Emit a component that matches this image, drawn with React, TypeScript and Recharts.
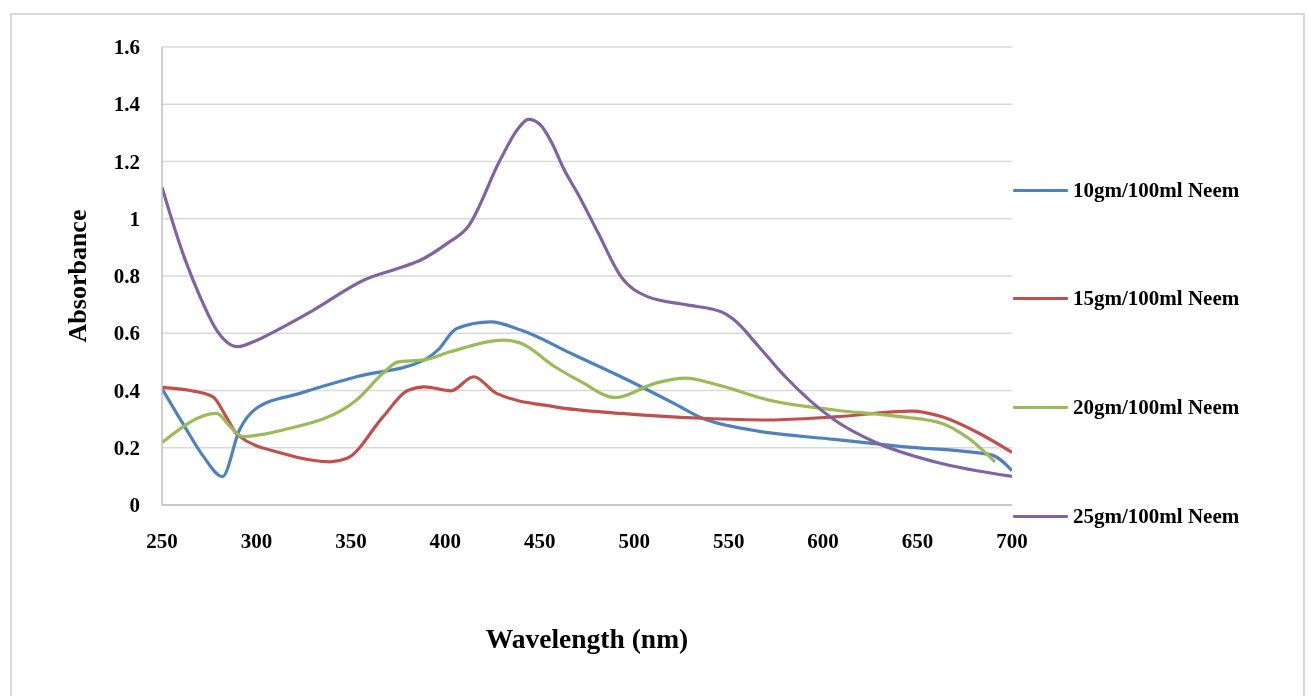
import React from 'react';
import { LineChart, Line, XAxis, YAxis, CartesianGrid, Legend, Label } from 'recharts';

const xTicks = [250, 300, 350, 400, 450, 500, 550, 600, 650, 700];
const yTicks = [0, 0.2, 0.4, 0.6, 0.8, 1, 1.2, 1.4, 1.6];
const yTickLabels = ['0', '0.2', '0.4', '0.6', '0.8', '1', '1.2', '1.4', '1.6'];

const names = ['10gm/100ml Neem', '15gm/100ml Neem', '20gm/100ml Neem', '25gm/100ml Neem'];
const colors = ['#4F81BD', '#C0504D', '#9BBB59', '#8064A2'];

const wl10 = [250, 261, 272, 282, 291, 300, 323, 353, 389, 396, 406, 424, 440, 468, 493, 521, 536, 562, 606, 642, 689, 700];
const abs10 = [0.407, 0.285, 0.169, 0.099, 0.262, 0.338, 0.39, 0.448, 0.507, 0.541, 0.617, 0.64, 0.611, 0.525, 0.448, 0.355, 0.303, 0.262, 0.229, 0.204, 0.175, 0.12];

const wl15 = [250, 265, 277, 284, 290, 314, 339, 348, 367, 380, 389, 403, 415, 427, 458, 493, 536, 571, 606, 647, 663, 681, 700];
const abs15 = [0.411, 0.4, 0.378, 0.308, 0.245, 0.18, 0.151, 0.163, 0.308, 0.4, 0.413, 0.399, 0.448, 0.39, 0.343, 0.32, 0.303, 0.297, 0.308, 0.328, 0.308, 0.256, 0.184];

const wl20 = [250, 279, 286, 293, 314, 353, 367, 375, 389, 403, 431, 440, 458, 472, 490, 511, 527, 546, 571, 606, 642, 663, 677, 691];
const abs20 = [0.218, 0.32, 0.274, 0.239, 0.262, 0.367, 0.46, 0.5, 0.507, 0.536, 0.576, 0.565, 0.483, 0.43, 0.375, 0.425, 0.443, 0.416, 0.367, 0.332, 0.308, 0.285, 0.233, 0.151];

const wl25 = [250, 261, 270, 279, 290, 300, 311, 330, 357, 378, 387, 401, 412, 429, 438, 444, 450, 456, 463, 470, 481, 493, 507, 528, 546, 553, 566, 580, 606, 627, 659, 700];
const abs25 = [1.11, 0.88, 0.73, 0.61, 0.553, 0.575, 0.611, 0.68, 0.786, 0.833, 0.856, 0.914, 0.972, 1.205, 1.31, 1.347, 1.33, 1.27, 1.17, 1.089, 0.949, 0.798, 0.728, 0.699, 0.675, 0.646, 0.553, 0.448, 0.297, 0.221, 0.151, 0.1];

const toSeries = (wl: number[], ab: number[]) => wl.map((w, i) => ({ wl: w, v: ab[i] }));
const seriesList = [toSeries(wl10, abs10), toSeries(wl15, abs15), toSeries(wl20, abs20), toSeries(wl25, abs25)];

const FONT = '"Liberation Serif", "Times New Roman", serif';
const legendCenters = [12, 120, 229, 338];

const XTick = (props: any) => {
  const { x, y, payload } = props;
  return (
    <text x={x} y={y + 43} textAnchor="middle" fontFamily={FONT} fontWeight="bold" fontSize={21} fill="#000">
      {payload.value}
    </text>
  );
};

const YTick = (props: any) => {
  const { x, y, payload } = props;
  const idx = yTicks.indexOf(payload.value);
  return (
    <text x={x - 22} y={y + 7} textAnchor="end" fontFamily={FONT} fontWeight="bold" fontSize={21} fill="#000">
      {idx >= 0 ? yTickLabels[idx] : payload.value}
    </text>
  );
};

const LegendContent = (props: any) => {
  const payload = props.payload || [];
  return (
    <div style={{ position: 'relative', width: 260, height: 360 }}>
      {payload.map((entry: any, i: number) => (
        <div
          key={i}
          style={{
            position: 'absolute',
            left: 0,
            top: legendCenters[i] - 12,
            height: 24,
            display: 'flex',
            alignItems: 'center',
            whiteSpace: 'nowrap',
          }}
        >
          <div style={{ width: 55, height: 3, background: entry.color, borderRadius: 1 }} />
          <span style={{ marginLeft: 5, fontFamily: FONT, fontWeight: 'bold', fontSize: 21, color: '#000' }}>
            {entry.value}
          </span>
        </div>
      ))}
    </div>
  );
};

export default function App() {
  return (
    <div style={{ position: 'relative', width: 1295, height: 680 }}>
      <div
        style={{
          position: 'fixed',
          left: 10,
          top: 13,
          width: 1295,
          height: 720,
          border: '2px solid #d9d9d9',
          boxSizing: 'border-box',
          pointerEvents: 'none',
        }}
      />
      <div style={{ position: 'absolute', left: 0, top: 0 }}>
        <LineChart width={1295} height={680} margin={{ top: 39, right: 291, bottom: 143, left: 0 }}>
          <CartesianGrid vertical={false} stroke="#d9d9d9" strokeWidth={1.5} />
          <XAxis
            dataKey="wl"
            type="number"
            domain={[250, 700]}
            ticks={xTicks}
            allowDataOverflow
            height={40}
            tickLine={false}
            tickSize={0}
            tickMargin={0}
            axisLine={{ stroke: '#bfbfbf', strokeWidth: 1.5 }}
            tick={<XTick />}
            interval={0}
          >
            <Label
              content={(p: any) => {
                const vb = p.viewBox || { x: 154, y: 497, width: 850 };
                return (
                  <text
                    x={vb.x + vb.width / 2}
                    y={vb.y + 143}
                    textAnchor="middle"
                    fontFamily={FONT}
                    fontWeight="bold"
                    fontSize={27.5}
                    fill="#000"
                  >
                    Wavelength (nm)
                  </text>
                );
              }}
            />
          </XAxis>
          <YAxis
            type="number"
            domain={[0, 1.6]}
            ticks={yTicks}
            width={154}
            tickLine={false}
            tickSize={0}
            tickMargin={0}
            axisLine={{ stroke: '#bfbfbf', strokeWidth: 1.5 }}
            tick={<YTick />}
            interval={0}
          >
            <Label
              content={(p: any) => {
                const vb = p.viewBox || { x: 0, y: 39, height: 458 };
                const cy = vb.y + vb.height / 2;
                return (
                  <text
                    x={69.5}
                    y={cy}
                    transform={`rotate(-90, 69.5, ${cy})`}
                    textAnchor="middle"
                    dominantBaseline="central"
                    fontFamily={FONT}
                    fontWeight="bold"
                    fontSize={26}
                    fill="#000"
                  >
                    Absorbance
                  </text>
                );
              }}
            />
          </YAxis>
          <Legend
            layout="vertical"
            align="center"
            verticalAlign="middle"
            content={<LegendContent />}
            wrapperStyle={{ left: 1005, top: 170, width: 260, height: 360 }}
          />
          {seriesList.map((s, i) => (
            <Line
              key={names[i]}
              data={s}
              dataKey="v"
              name={names[i]}
              type="monotone"
              stroke={colors[i]}
              strokeWidth={3.2}
              dot={false}
              activeDot={false}
              isAnimationActive={false}
            />
          ))}
        </LineChart>
      </div>
    </div>
  );
}
